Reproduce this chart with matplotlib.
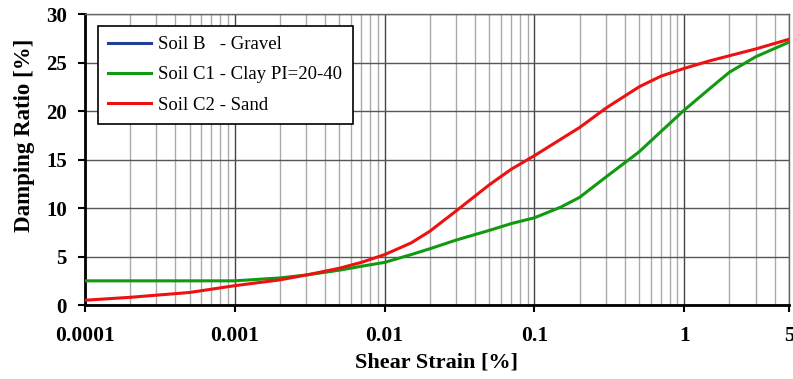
import numpy as np
import matplotlib
matplotlib.use('Agg')
import matplotlib.pyplot as plt
from matplotlib.lines import Line2D
from matplotlib.ticker import LogLocator, FixedLocator, NullFormatter

plt.rcParams.update({'font.family': ['Liberation Serif', 'DejaVu Serif']})

# ── data ──
strain_c2 = [0.0001, 0.0002, 0.0005, 0.001, 0.002, 0.003, 0.005, 0.007, 0.01, 0.015,
             0.02, 0.03, 0.05, 0.07, 0.1, 0.15, 0.2, 0.3, 0.5, 0.7, 1, 1.5, 2, 3, 5]
damp_c2 = [0.5, 0.8, 1.3, 2.0, 2.6, 3.1, 3.8, 4.4, 5.2, 6.4,
           7.6, 9.7, 12.4, 14.0, 15.4, 17.1, 18.3, 20.3, 22.5, 23.6, 24.4, 25.2, 25.7, 26.4, 27.4]

strain_c1 = [0.0001, 0.0005, 0.001, 0.002, 0.003, 0.005, 0.007, 0.01, 0.015, 0.02, 0.03,
             0.05, 0.07, 0.1, 0.15, 0.2, 0.3, 0.5, 0.7, 1, 1.5, 2, 3, 5]
damp_c1 = [2.5, 2.5, 2.5, 2.8, 3.1, 3.6, 4.0, 4.4, 5.2, 5.8, 6.7,
           7.7, 8.4, 9.0, 10.1, 11.1, 13.2, 15.8, 17.9, 20.1, 22.4, 24.0, 25.6, 27.1]

xticks = [0.0001, 0.001, 0.01, 0.1, 1, 5]
xticklabels = ['0.0001', '0.001', '0.01', '0.1', '1', '5']
yticks = [0, 5, 10, 15, 20, 25, 30]

fig = plt.figure(figsize=(7.93, 3.79), dpi=100)
ax = fig.add_axes([0.107, 0.195, 0.888, 0.768])

ax.plot(strain_c1, damp_c1, color='#119911', linewidth=2.2, zorder=3)
ax.plot(strain_c2, damp_c2, color='#ee1111', linewidth=2.2, zorder=4)

ax.set_xscale('log')
ax.set_xlim(0.0001, 5)
ax.set_ylim(0, 30)

ax.xaxis.set_major_locator(FixedLocator(xticks))
ax.set_xticklabels(xticklabels)
ax.xaxis.set_minor_locator(LogLocator(base=10, subs=np.arange(2, 10), numticks=20))
ax.xaxis.set_minor_formatter(NullFormatter())
ax.set_yticks(yticks)

ax.grid(which='major', axis='x', color='#444444', linewidth=1.0)
ax.grid(which='minor', axis='x', color='#aaaaaa', linewidth=1.0)
ax.grid(which='major', axis='y', color='#555555', linewidth=1.0)
ax.set_axisbelow(True)

ax.tick_params(axis='x', which='major', direction='out', length=5, width=1.5,
               labelsize=15.5, pad=10)
ax.tick_params(axis='y', which='major', direction='out', length=5, width=1.5,
               labelsize=15, pad=8)
ax.tick_params(axis='x', which='minor', length=0)
for lab in ax.get_xticklabels() + ax.get_yticklabels():
    lab.set_fontweight('bold')

for s in ['left', 'bottom']:
    ax.spines[s].set_linewidth(2)
    ax.spines[s].set_color('black')
for s in ['top', 'right']:
    ax.spines[s].set_linewidth(1)
    ax.spines[s].set_color('#666666')

ax.set_xlabel('Shear Strain [%]', fontsize=16, fontweight='bold', labelpad=5)
ax.set_ylabel('Damping Ratio [%]', fontsize=16.5, fontweight='bold')
ax.yaxis.set_label_coords(-0.071, 0.585)

handles = [
    Line2D([], [], color='#1f3f99', linewidth=2.2, label='Soil B   - Gravel'),
    Line2D([], [], color='#119911', linewidth=2.2, label='Soil C1 - Clay PI=20-40'),
    Line2D([], [], color='#ee1111', linewidth=2.2, label='Soil C2 - Sand'),
]
leg = ax.legend(handles=handles, loc='upper left', bbox_to_anchor=(0.018, 0.96),
                fontsize=13.5, frameon=True, fancybox=False, edgecolor='black',
                framealpha=1, handlelength=2.3, handletextpad=0.4,
                labelspacing=0.7, borderpad=0.55, borderaxespad=0)
leg.get_frame().set_linewidth(1.2)

fig.savefig('out.png', dpi=100)
